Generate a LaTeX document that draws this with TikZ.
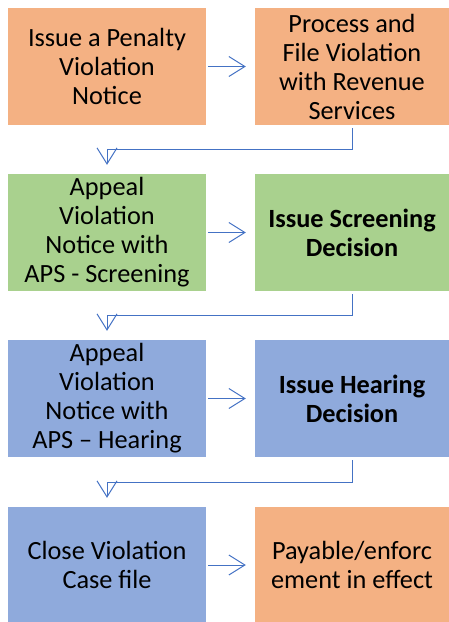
\documentclass[tikz,border=0pt]{standalone}
\usepackage{fontspec}
\setmainfont{Carlito}
\usetikzlibrary{arrows.meta}
\definecolor{boxorange}{HTML}{F4B183}
\definecolor{boxgreen}{HTML}{A9D18E}
\definecolor{boxblue}{HTML}{8FAADC}
\definecolor{arrowblue}{HTML}{4472C4}
\tikzset{
  procbox/.style={rectangle, inner sep=0pt, align=center, text=black,
    font=\fontsize{26.3}{29}\selectfont},
  leftbox/.style={procbox, minimum width=198pt},
  rightbox/.style={procbox, minimum width=194pt},
  boldtext/.style={font=\fontsize{26.3}{29}\selectfont\bfseries},
  conn/.style={draw=arrowblue, line width=1pt,
    -{Straight Barb[length=16pt,width=20pt,line width=1pt]}},
}
\begin{document}
\begin{tikzpicture}[x=1pt,y=-1pt]
\useasboundingbox (0,0) rectangle (449,622);
% row 1
\node[leftbox, fill=boxorange, minimum height=117pt] (b1) at (107,66.5) {Issue a Penalty\\Violation\\Notice};
\node[rightbox, fill=boxorange, minimum height=117pt] (b2) at (352,66.5) {Process and\\File Violation\\with Revenue\\Services};
% row 2
\node[leftbox, fill=boxgreen, minimum height=117pt] (b3) at (107,232.5) {Appeal\\Violation\\Notice with\\APS - Screening};
\node[rightbox, fill=boxgreen, minimum height=117pt, boldtext] (b4) at (352,232.5) {Issue Screening\\Decision};
% row 3
\node[leftbox, fill=boxblue, minimum height=117pt] (b5) at (107,398.5) {Appeal\\Violation\\Notice with\\APS – Hearing};
\node[rightbox, fill=boxblue, minimum height=117pt, boldtext] (b6) at (352,398.5) {Issue Hearing\\Decision};
% row 4
\node[leftbox, fill=boxblue, minimum height=116pt] (b7) at (107,565) {Close Violation\\Case file};
\node[rightbox, fill=boxorange, minimum height=116pt] (b8) at (352,565) {Payable/enforc\\ement in effect};
% horizontal arrows
\draw[conn] ([xshift=2pt]b1.east) -- ([xshift=-9pt]b2.west);
\draw[conn] ([xshift=2pt]b3.east) -- ([xshift=-9pt]b4.west);
\draw[conn] ([xshift=2pt]b5.east) -- ([xshift=-9pt]b6.west);
\draw[conn] ([xshift=2pt]b7.east) -- ([xshift=-9pt]b8.west);
% elbow connectors
\draw[conn] ([yshift=-3pt]b2.south) |- ([yshift=24pt]b3.north) -- ([yshift=9pt]b3.north);
\draw[conn] ([yshift=-3pt]b4.south) |- ([yshift=24pt]b5.north) -- ([yshift=9pt]b5.north);
\draw[conn] ([yshift=-3pt]b6.south) |- ([yshift=24pt]b7.north) -- ([yshift=9pt]b7.north);
\end{tikzpicture}
\end{document}
